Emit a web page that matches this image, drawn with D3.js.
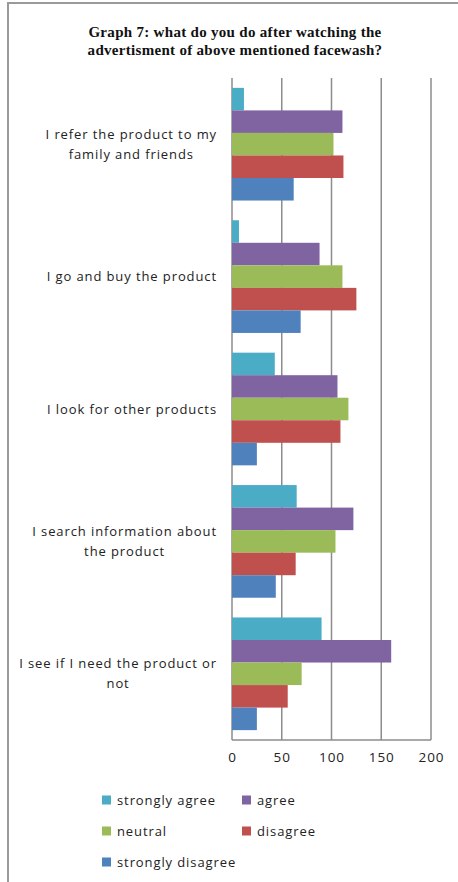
<!DOCTYPE html>
<html>
<head>
<meta charset="utf-8">
<script src="https://cdn.jsdelivr.net/npm/d3@7"></script>
<style>
  body { margin: 0; background: #fff; }
  svg { display: block; }
</style>
</head>
<body>
<div id="chart"></div>
<script>
const categories = [
  "I refer the product to my|family and friends",
  "I go and buy the product",
  "I look for other products",
  "I search information about|the product",
  "I see if I need the product or|not"
];
const seriesNames = ["strongly agree", "agree", "neutral", "disagree", "strongly disagree"];
const seriesColors = ["#4bacc6", "#8064a2", "#9bbb59", "#c0504d", "#4f81bd"];
const stronglyAgree = [12, 7, 43, 65, 90];
const agree = [111, 88, 106, 122, 160];
const neutral = [102, 111, 117, 104, 70];
const disagree = [112, 125, 109, 64, 56];
const stronglyDisagree = [62, 69, 25, 44, 25];
const xTicks = [0, 50, 100, 150, 200];

const seriesValues = [stronglyAgree, agree, neutral, disagree, stronglyDisagree];

const width = 458;
const height = 882;
const labelFont = "'Open Sans', sans-serif";
const labelSpacing = "0.9px";

const svg = d3.select("#chart").append("svg")
  .attr("width", width)
  .attr("height", height);

// outer chart frame (right and bottom edges fall off the picture)
svg.append("rect")
  .attr("x", 8).attr("y", 3)
  .attr("width", 480).attr("height", 920)
  .attr("fill", "none")
  .attr("stroke", "#9a9a9a")
  .attr("stroke-width", 2);

// title
svg.append("text")
  .attr("x", 235)
  .attr("text-anchor", "middle")
  .attr("font-family", "'Liberation Serif', 'Times New Roman', serif")
  .attr("font-weight", "bold")
  .attr("font-size", 15)
  .attr("letter-spacing", "0.3px")
  .attr("fill", "#111")
  .selectAll("tspan")
  .data(["Graph 7: what do you do after watching the", "advertisment of above mentioned facewash?"])
  .join("tspan")
  .attr("x", 235)
  .attr("y", (d, i) => 37 + i * 18)
  .text(d => d);

const x = d3.scaleLinear().domain([0, 200]).range([232, 431]);
const y = d3.scaleBand().domain(categories).range([78, 740])
  .paddingInner(0.149).paddingOuter(0.0745);
const ySeries = d3.scaleBand().domain(seriesNames).range([0, y.bandwidth()]);

// gridlines
svg.append("g")
  .selectAll("line")
  .data(xTicks)
  .join("line")
  .attr("x1", d => x(d)).attr("x2", d => x(d))
  .attr("y1", 78).attr("y2", 740)
  .attr("stroke", "#8c8c8c")
  .attr("stroke-width", 1.5);

// bars
const groups = svg.append("g")
  .selectAll("g")
  .data(categories)
  .join("g")
  .attr("transform", d => `translate(0,${y(d)})`);

groups.selectAll("rect")
  .data((c, ci) => seriesNames.map((s, si) => ({ s, si, v: seriesValues[si][ci] })))
  .join("rect")
  .attr("x", x(0))
  .attr("y", d => ySeries(d.s))
  .attr("width", d => x(d.v) - x(0))
  .attr("height", ySeries.bandwidth())
  .attr("fill", d => seriesColors[d.si]);

// axis lines
svg.append("line")
  .attr("x1", x(0)).attr("x2", x(200))
  .attr("y1", 740).attr("y2", 740)
  .attr("stroke", "#8c8c8c").attr("stroke-width", 1.5);

// x tick labels
const xAxis = svg.append("g")
  .attr("transform", "translate(0,752)")
  .call(d3.axisBottom(x).tickValues(xTicks).tickSize(0).tickPadding(0));
xAxis.select(".domain").remove();
xAxis.selectAll("text")
  .attr("font-family", labelFont)
  .attr("font-size", 13.5)
  .attr("letter-spacing", "1px")
  .attr("fill", "#222");

// category labels: block right aligned, lines centred within block
svg.append("g")
  .selectAll("text")
  .data(categories)
  .join("text")
  .attr("font-family", labelFont)
  .attr("font-size", 13)
  .attr("letter-spacing", labelSpacing)
  .attr("fill", "#222")
  .attr("text-anchor", "middle")
  .each(function (c) {
    const lines = c.split("|");
    const t = d3.select(this);
    const cy = y(c) + y.bandwidth() / 2;
    const spans = t.selectAll("tspan").data(lines).join("tspan")
      .attr("y", (d, i) => cy + 4.5 + (i - (lines.length - 1) / 2) * 20)
      .text(d => d);
    let maxW = 0;
    spans.each(function () { maxW = Math.max(maxW, this.getComputedTextLength()); });
    spans.attr("x", 217 - maxW / 2);
  });

// legend
const legendPos = [[102, 800], [242, 800], [102, 831], [242, 831], [102, 862]];
const legend = svg.append("g")
  .selectAll("g")
  .data(seriesNames)
  .join("g")
  .attr("transform", (d, i) => `translate(${legendPos[i][0]},${legendPos[i][1]})`);
legend.append("rect")
  .attr("x", 0).attr("y", -4.5)
  .attr("width", 9).attr("height", 9)
  .attr("fill", (d, i) => seriesColors[i]);
legend.append("text")
  .attr("x", 15).attr("y", 4.5)
  .attr("font-family", labelFont)
  .attr("font-size", 13)
  .attr("letter-spacing", labelSpacing)
  .attr("fill", "#222")
  .text(d => d);
</script>
</body>
</html>
